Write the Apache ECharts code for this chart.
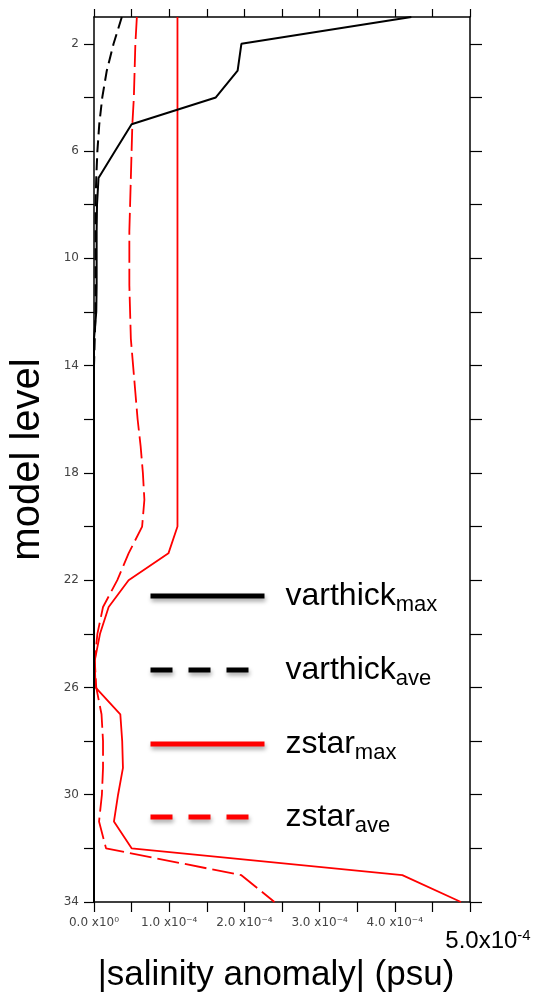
<!DOCTYPE html>
<html>
<head>
<meta charset="utf-8">
<script src="https://cdn.jsdelivr.net/npm/echarts@6/dist/echarts.min.js"></script>
<style>
html,body{margin:0;padding:0;background:#ffffff;}
#chart{width:549px;height:993px;}
</style>
</head>
<body>
<div id="chart"></div>
<script>
// model levels (y axis, increasing downward)
const levels = [1,2,3,4,5,6,7,8,9,10,11,12,13,14,15,16,17,18,19,20,21,22,23,24,25,26,27,28,29,30,31,32,33,34];

// |salinity anomaly| in units of 1e-4 psu
const varthickMax = [4.22,1.96,1.91,1.62,0.50,0.28,0.06,0.04,0.035,0.035,0.035,0.03,0.0,0,0,0,0,0,0,0,0,0,0,0,0,0,0,0,0,0,0,0,0,0];
const varthickAve = [0.37,0.26,0.17,0.11,0.07,0.045,0.03,0.02,0.02,0.02,0.02,0.02,0.01,0,0,0,0,0,0,0,0,0,0,0,0,0,0,0,0,0,0,0,0,0];
const zstarMax = [1.11,1.11,1.11,1.11,1.11,1.11,1.11,1.11,1.11,1.11,1.11,1.11,1.11,1.11,1.11,1.11,1.11,1.11,1.11,1.11,0.99,0.46,0.195,0.08,0.01,0.02,0.35,0.375,0.385,0.32,0.265,0.50,4.10,4.88];
const zstarAve = [0.57,0.55,0.54,0.53,0.51,0.50,0.49,0.48,0.47,0.47,0.47,0.48,0.49,0.52,0.55,0.58,0.62,0.65,0.67,0.64,0.46,0.31,0.12,0.045,0.01,0.03,0.10,0.12,0.12,0.105,0.067,0.16,1.96,2.40];

// legend names (main part / subscript)
const seriesNames = ['varthick_max','varthick_ave','zstar_max','zstar_ave'];

// tick values and labels
const xLabelValues = [0,1,2,3,4,5];
const xTickLabels = ['0.0 x10\u2070','1.0 x10\u207B\u2074','2.0 x10\u207B\u2074','3.0 x10\u207B\u2074','4.0 x10\u207B\u2074','5.0x10'];
const xBigExponent = '-4';
const yTickValues = [2,4,6,8,10,12,14,16,18,20,22,24,26,28,30,32,34];
const yLabelValues = [2,6,10,14,18,22,26,30,34];
const xTitle = '|salinity anomaly| (psu)';
const yTitle = 'model level';

const seriesData = [varthickMax, varthickAve, zstarMax, zstarAve];
const colors = ['#000000','#000000','#ff0000','#ff0000'];
const plotDash = ['solid',[12,6],'solid',[22,6]];
const plotWidth = [2,2,1.8,1.8];
const legendDash = ['solid',[22,16],'solid',[22,16]];
const legendTops = [580,654,728,801];

const chart = echarts.init(document.getElementById('chart'), null, {renderer:'canvas'});

const tickFont = 'DejaVu Sans';
const bigFont = 'Liberation Sans';

function xFmt(v){
  const i = Math.round(v);
  if (Math.abs(v - i) > 1e-6) return '';
  if (i === 5) return '{big|' + xTickLabels[5] + '}{sup|' + xBigExponent + '}';
  return xTickLabels[i];
}

const axisLineStyle = {color:'#000', width:1.5};
const tickStyle = {color:'#000', width:1.2};

const option = {
  animation:false,
  backgroundColor:'#ffffff',
  grid:{left:94, right:79, top:17, bottom:91, outerBoundsMode:'none', containLabel:false},
  xAxis:[
    {
      type:'value', position:'bottom', min:0, max:5, interval:0.5,
      axisLine:{show:true, onZero:false, lineStyle:axisLineStyle},
      axisTick:{show:true, inside:false, length:10, lineStyle:tickStyle},
      splitLine:{show:false},
      axisLabel:{
        show:true, margin:15, customValues:xLabelValues, formatter:xFmt,
        fontFamily:tickFont, fontSize:12, color:'#444',
        rich:{
          big:{fontFamily:bigFont, fontSize:24, color:'#000', padding:[12,0,0,36]},
          sup:{fontFamily:bigFont, fontSize:15, color:'#000', verticalAlign:'top', padding:[11,0,0,0]}
        }
      },
      name:xTitle, nameLocation:'middle', nameGap:53,
      nameTextStyle:{fontFamily:bigFont, fontSize:35, color:'#000', padding:[0,12,0,0]}
    },
    {
      type:'value', position:'top', min:0, max:5, interval:0.5,
      axisLine:{show:true, onZero:false, lineStyle:axisLineStyle},
      axisTick:{show:true, inside:false, length:8, lineStyle:tickStyle},
      splitLine:{show:false},
      axisLabel:{show:false}
    }
  ],
  yAxis:[
    {
      type:'value', position:'left', inverse:true, min:1, max:34,
      axisLine:{show:true, onZero:false, lineStyle:axisLineStyle},
      axisTick:{show:true, inside:false, length:10, customValues:yTickValues, lineStyle:tickStyle},
      splitLine:{show:false},
      axisLabel:{show:true, margin:15, customValues:yLabelValues, fontFamily:tickFont, fontSize:12, color:'#444'},
      name:yTitle, nameLocation:'middle', nameGap:46, nameRotate:90,
      nameTextStyle:{fontFamily:bigFont, fontSize:40, color:'#000'}
    },
    {
      type:'value', position:'right', inverse:true, min:1, max:34,
      axisLine:{show:true, onZero:false, lineStyle:axisLineStyle},
      axisTick:{show:true, inside:false, length:12, customValues:yTickValues, lineStyle:tickStyle},
      splitLine:{show:false},
      axisLabel:{show:false}
    }
  ],
  legend: seriesNames.map((n,i)=>({
    data:[{name:n}],
    left:148, top:legendTops[i], padding:0,
    orient:'vertical', selectedMode:false,
    itemWidth:114, itemHeight:20,
    itemStyle:{color:'rgba(0,0,0,0)', opacity:0, borderWidth:0},
    lineStyle:{width:5, type:legendDash[i], color:colors[i], opacity:1, shadowColor:'rgba(0,0,0,0.35)', shadowBlur:4, shadowOffsetX:1, shadowOffsetY:3},
    formatter:(name)=>{ const p = name.split('_'); return '{a|' + p[0] + '}{b|' + p[1] + '}'; },
    textStyle:{
      color:'#000',
      rich:{
        a:{fontFamily:bigFont, fontSize:32, color:'#000', lineHeight:40, padding:[0,0,0,16]},
        b:{fontFamily:bigFont, fontSize:22, color:'#000', lineHeight:22, verticalAlign:'bottom'}
      }
    }
  })),
  series: seriesNames.map((n,i)=>({
    name:n, type:'line', xAxisIndex:0, yAxisIndex:0,
    symbol:'none', showSymbol:false, smooth:false,
    clip:true,
    lineStyle:{color:colors[i], width:plotWidth[i], type:plotDash[i]},
    itemStyle:{color:colors[i]},
    emphasis:{disabled:true},
    z: i < 2 ? 3 : 2,
    data: levels.map((lv,k)=>[seriesData[i][k], lv])
  }))
};

chart.setOption(option);
</script>
</body>
</html>
